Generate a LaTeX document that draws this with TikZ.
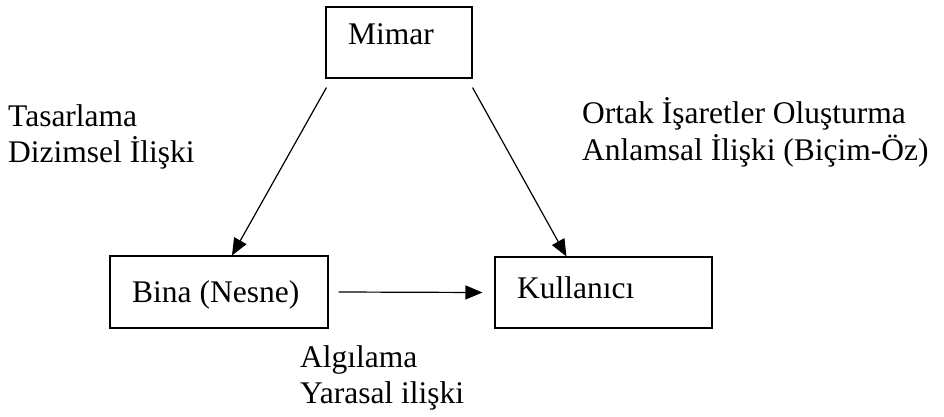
\documentclass[tikz,border=0pt]{standalone}
\usepackage{fontspec}
\setmainfont{Liberation Serif}
\usetikzlibrary{arrows.meta,calc}
\begin{document}
\begin{tikzpicture}[x=1pt,y=-1pt,
  box/.style={draw,line width=1.1pt,inner sep=0pt},
  lbl/.style={inner sep=0pt,anchor=base west,align=left,font=\fontsize{31.5}{36}\selectfont},
  conn/.style={line width=1.2pt,-{Triangle[length=17pt,width=14pt]}}]
\useasboundingbox (0,0) rectangle (944,417);
% boxes
\node[box,minimum width=146pt,minimum height=71pt] (mimar) at (399,42.5) {};
\node[box,minimum width=218pt,minimum height=72pt] (bina) at (219,292) {};
\node[box,minimum width=217pt,minimum height=71pt] (kul) at (603.5,292.5) {};
% box texts
\node[lbl] (tmimar) at (348,45) {Mimar};
\node[lbl] (tbina) at (132,302) {Bina (Nesne)};
\node[lbl] (tkul) at (517,298) {Kullanıcı};
% labels (base = last line)
\node[lbl] (ltas) at (8,162) {Tasarlama\\Dizimsel İlişki};
\node[lbl] (lort) at (582,160) {Ortak İşaretler Oluşturma\\Anlamsal İlişki (Biçim-Öz)};
\node[lbl] (lalg) at (300,403) {Algılama\\Yarasal ilişki};
% connectors
\coordinate (m1) at ($(mimar.south west)+(1,9)$);
\coordinate (m2) at ($(mimar.south east)+(0,9)$);
\draw[conn] (m1) -- ($(bina.north)+(13,0)$);
\draw[conn] (m2) -- ($(kul.north west)+(72,0)$);
\draw[conn] ($(bina.east)+(10,0)$) -- ($(kul.west)+(-12,0)$);
\end{tikzpicture}
\end{document}
